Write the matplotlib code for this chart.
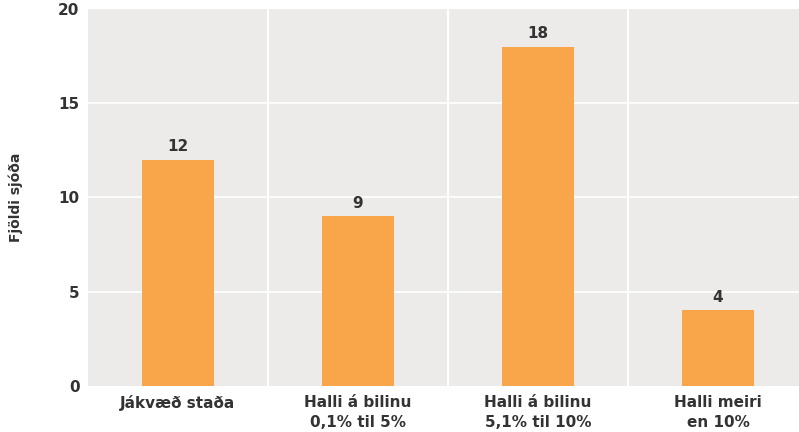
import numpy as np
import matplotlib.pyplot as plt

categories = ['Jákvæð staða', 'Halli á bilinu\n0,1% til 5%', 'Halli á bilinu\n5,1% til 10%', 'Halli meiri\nen 10%']
values = [12, 9, 18, 4]
yticks = [0, 5, 10, 15, 20]

plt.rcParams['font.family'] = ['DejaVu Sans']
plt.rcParams['font.weight'] = 'bold'

fig = plt.figure(figsize=(7.99, 4.32), dpi=100)
ax = fig.add_axes([0.110, 0.107, 0.89, 0.872])
ax.set_facecolor('#ecebea')

x = np.arange(len(categories))
bars = ax.bar(x, values, width=0.4, color='#f9a54a', zorder=3)
for xi, v in zip(x, values):
    ax.annotate(str(v), (xi, v), xytext=(0, 4), textcoords='offset points',
                ha='center', va='bottom', fontsize=11, fontweight='bold', color='#333333')

ax.set_xlim(-0.5, 3.45)
ax.set_ylim(0, 20)
ax.set_yticks(yticks)
ax.set_xticks(x)
ax.set_xticklabels(categories, fontsize=11, fontweight='bold', color='#333333', linespacing=1.35)
ax.tick_params(axis='y', labelsize=11, labelcolor='#333333', length=0, pad=6)
ax.tick_params(axis='x', length=0, pad=7)

for yv in yticks[1:-1]:
    ax.axhline(yv, color='white', lw=1.2, zorder=1)
for xv in [0.5, 1.5, 2.5]:
    ax.axvline(xv, color='white', lw=1.5, zorder=1)

for s in ax.spines.values():
    s.set_visible(False)

fig.text(0.02, 0.543, 'Fjöldi sjóða', rotation=90, ha='center', va='center',
         fontsize=10, fontweight='bold', color='#333333')

fig.savefig('out.png', dpi=100)
